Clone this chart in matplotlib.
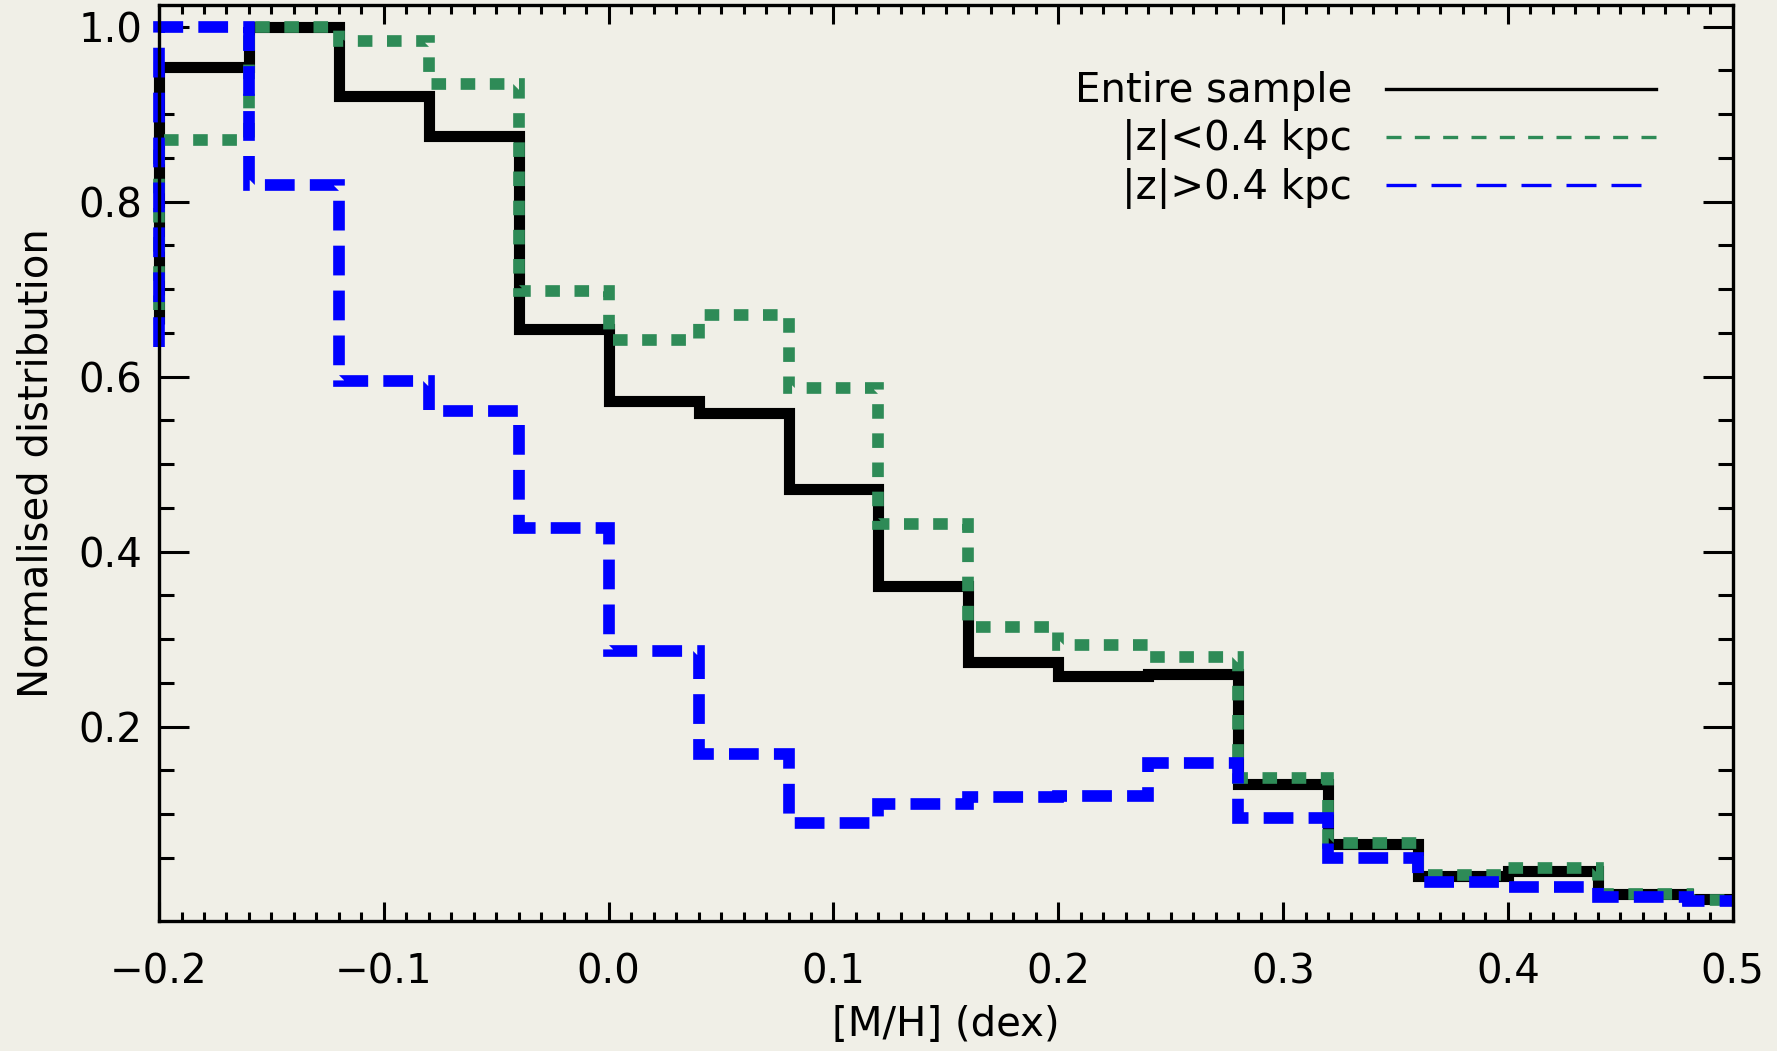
import numpy as np
import matplotlib
matplotlib.use("Agg")
import matplotlib.pyplot as plt
from matplotlib.ticker import FixedLocator, MultipleLocator, FuncFormatter

# =========================
# DATA
# =========================
# bin edges in [M/H]; last bin is cut at the x-axis limit
bin_edges = [-0.20, -0.16, -0.12, -0.08, -0.04, 0.00, 0.04, 0.08, 0.12,
             0.16, 0.20, 0.24, 0.28, 0.32, 0.36, 0.40, 0.44, 0.48, 0.50]

# value of the bin just left of the plot (only its vertical step is visible)
entire_prev = 0.660
lowz_prev = 0.676
highz_prev = 0.634

entire = [0.954, 1.000, 0.921, 0.875, 0.655, 0.572, 0.559, 0.472, 0.361,
          0.274, 0.258, 0.260, 0.135, 0.066, 0.029, 0.035, 0.009, 0.003]
low_z = [0.870, 1.000, 0.984, 0.935, 0.698, 0.642, 0.671, 0.587, 0.432,
         0.314, 0.293, 0.280, 0.141, 0.067, 0.030, 0.0385, 0.009, 0.002]
high_z = [1.000, 0.819, 0.595, 0.561, 0.427, 0.287, 0.169, 0.090, 0.112,
          0.120, 0.121, 0.159, 0.096, 0.050, 0.022, 0.0165, 0.0057, 0.001]

labels = ["Entire sample", "|z|<0.4 kpc", "|z|>0.4 kpc"]

# =========================
# STYLE
# =========================
BG = "#f0efe7"
GREEN = "#2e8b57"
BLUE = "#0000ff"
FS = 29

plt.rcParams["font.family"] = ["DejaVu Sans"]
plt.rcParams["font.size"] = FS

fig = plt.figure(figsize=(17.77, 10.51), dpi=100, facecolor=BG)
ax = fig.add_axes([0.0895, 0.1240, 0.8856, 0.8713])
ax.set_facecolor(BG)


def step_xy(prev, vals):
    x = [bin_edges[0]] + list(bin_edges)
    y = [prev] + list(vals) + [vals[-1]]
    return x, y


common = dict(drawstyle="steps-post", clip_on=False,
              solid_joinstyle="miter", dash_joinstyle="miter",
              solid_capstyle="butt", dash_capstyle="butt")

x, y = step_xy(entire_prev, entire)
ax.plot(x, y, color="black", lw=8.0, **common)
x, y = step_xy(lowz_prev, low_z)
ax.plot(x, y, color=GREEN, lw=8.4, linestyle=(0, (1.25, 1.25)), **common)
x, y = step_xy(highz_prev, high_z)
ax.plot(x, y, color=BLUE, lw=8.4, linestyle=(0, (2.55, 1.3)), **common)

# =========================
# AXES
# =========================
ax.set_xlim(-0.2, 0.5)
ax.set_ylim(-0.0217, 1.0248)

fmt = FuncFormatter(lambda v, pos: f"{v:.1f}".replace("-", "\u2212"))
ax.xaxis.set_major_locator(MultipleLocator(0.1))
ax.xaxis.set_minor_locator(MultipleLocator(0.01))
ax.yaxis.set_major_locator(FixedLocator([0.2, 0.4, 0.6, 0.8, 1.0]))
ax.yaxis.set_minor_locator(FixedLocator([0.05 * k for k in range(1, 21)]))
ax.xaxis.set_major_formatter(fmt)
ax.yaxis.set_major_formatter(fmt)

ax.tick_params(axis="both", which="both", direction="in",
               top=True, right=True, width=2.2, colors="black")
ax.tick_params(axis="x", which="major", length=13.5, pad=23, labelsize=FS)
ax.tick_params(axis="x", which="minor", length=6.5)
ax.tick_params(axis="y", which="major", length=21.5, pad=12, labelsize=FS)
ax.tick_params(axis="y", which="minor", length=11)

for sp in ax.spines.values():
    sp.set_linewidth(2.4)

ax.set_xlabel("[M/H] (dex)", fontsize=FS, labelpad=9)
ax.set_ylabel("Normalised distribution", fontsize=FS, labelpad=16)

# =========================
# LEGEND (text right-aligned, thin line to its right)
# =========================
legend_colors = ["black", GREEN, BLUE]
legend_styles = ["-", (0, (4.5, 4.0)), (0, (9.0, 4.5))]
line_y = [0.9083, 0.8562, 0.8034]
text_y = [0.8944, 0.8414, 0.7885]
for lab, col, ls, ly, ty in zip(labels, legend_colors, legend_styles, line_y, text_y):
    ax.text(0.7581, ty, lab, transform=ax.transAxes, ha="right", va="baseline",
            fontsize=FS)
    ax.plot([0.7797, 0.9513], [ly, ly], transform=ax.transAxes, color=col,
            lw=2.4, linestyle=ls, dash_capstyle="butt", clip_on=False)

fig.savefig("out.png", dpi=100, facecolor=BG)
